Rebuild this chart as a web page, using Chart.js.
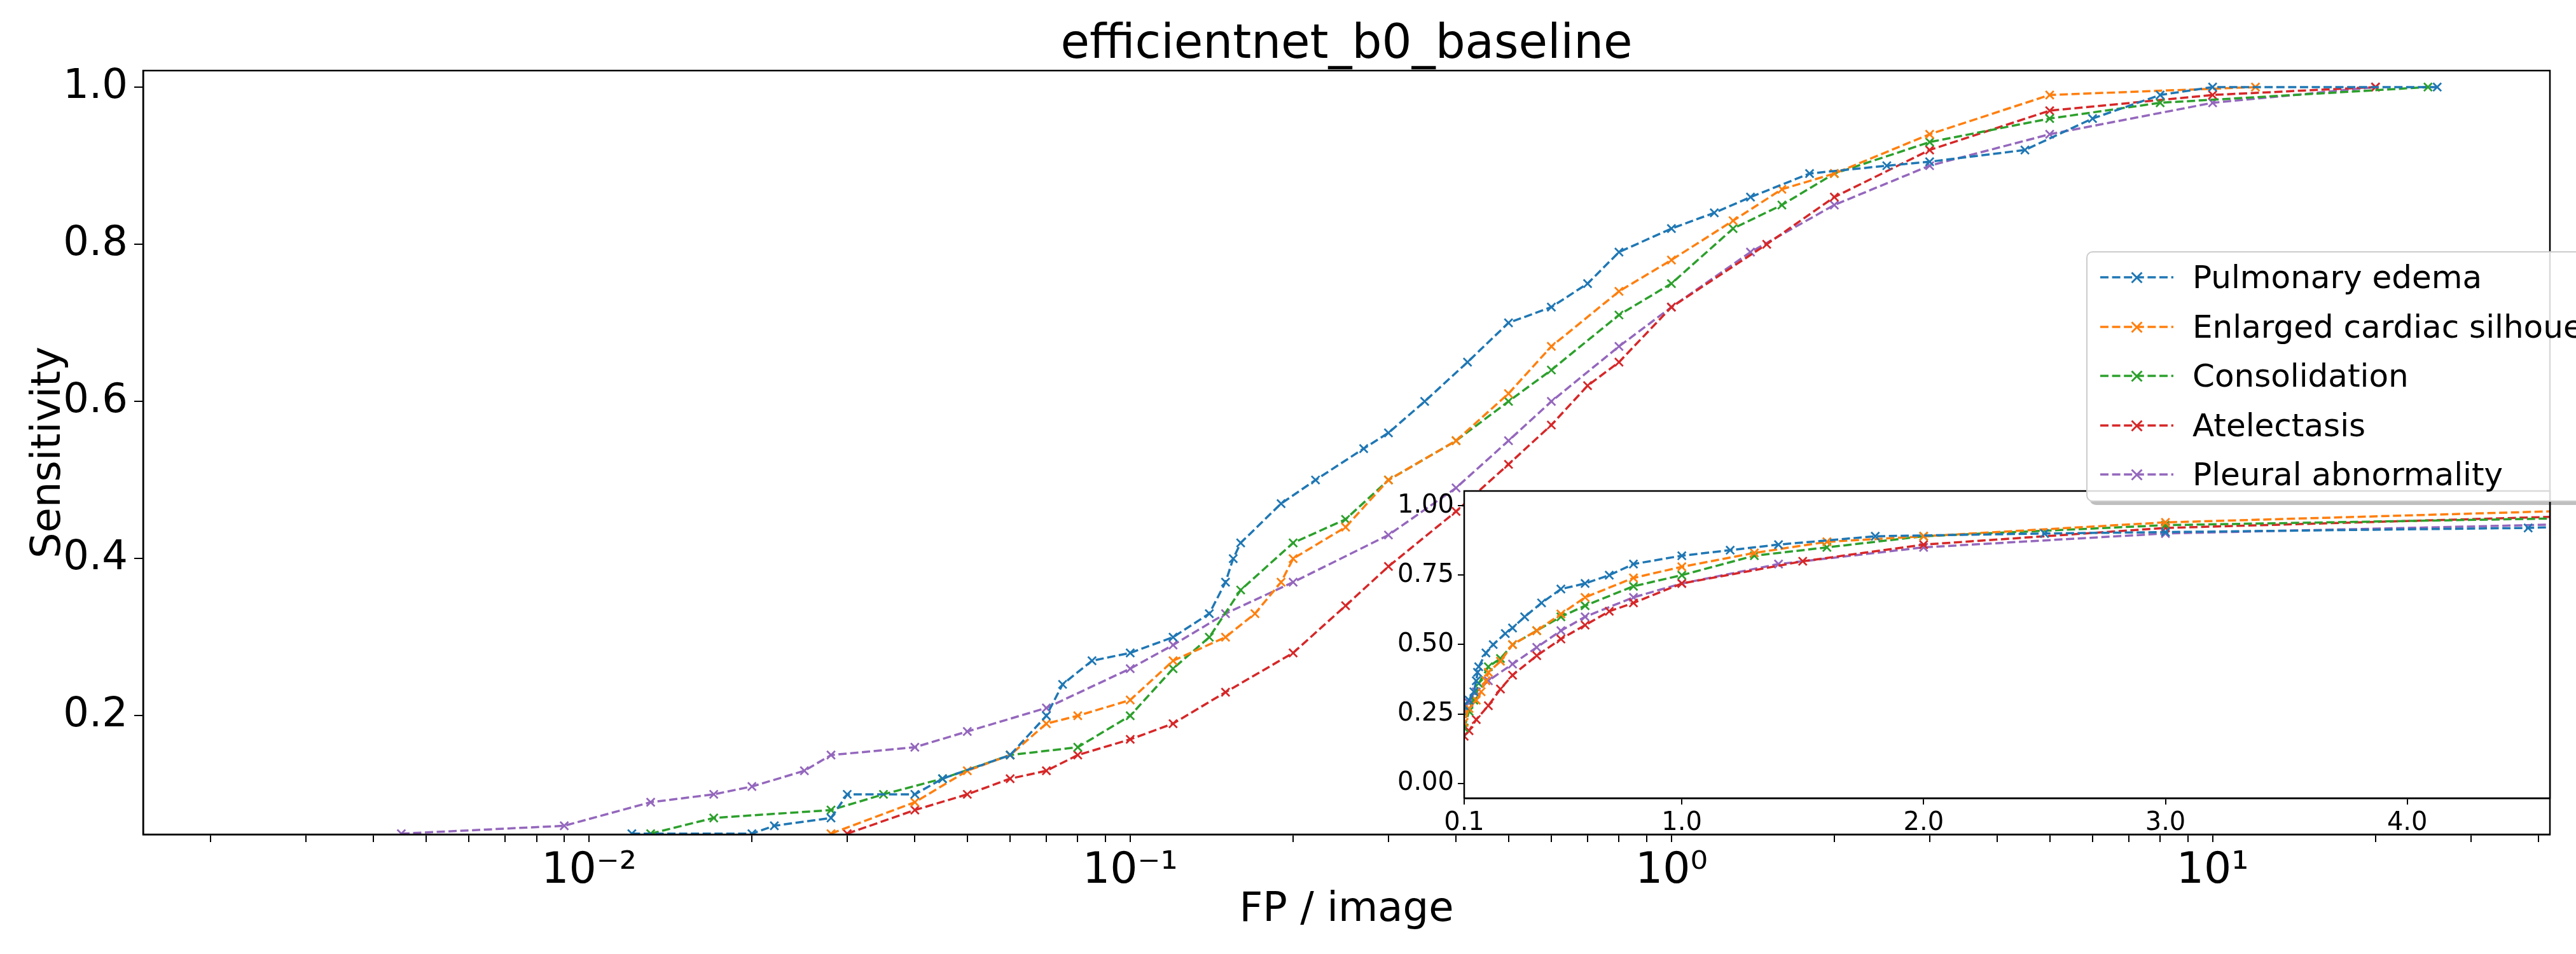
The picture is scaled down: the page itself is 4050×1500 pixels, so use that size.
<!DOCTYPE html>
<html>
<head>
<meta charset="utf-8">
<script src="https://cdn.jsdelivr.net/npm/chart.js@4.4.0/dist/chart.umd.min.js"></script>
<style>
  html, body { margin: 0; padding: 0; background: #fff; overflow: hidden; width: 4050px; height: 1500px; }
  body { position: relative; font-family: "DejaVu Sans", sans-serif; }
  #main { position: absolute; left: 0; top: 0; }
  #inset { position: absolute; left: 2150px; top: 740px; }
  #title { position: absolute; left: 225px; width: 3784px; top: 22px; text-align: center; font-size: 74px; color: #000; }
  #legend { position: absolute; left: 3280px; top: 395px; width: 900px; height: 390px; background: rgba(255,255,255,0.85);
            border: 2px solid #ccc; border-radius: 10px; box-shadow: 5px 5px 0 rgba(0,0,0,0.25); z-index: 5; }
  .item { position: absolute; left: 20px; height: 70px; display: flex; align-items: center; font-size: 50px; color: #000; }
  .item svg { margin-right: 30px; }
</style>
</head>
<body>
<canvas id="main" width="4050" height="1500"></canvas>
<canvas id="inset" width="1900" height="600"></canvas>
<div id="title">efficientnet_b0_baseline</div>
<div id="legend"></div>
<script>
// Series data (FP per image, sensitivity)
var labels = ['Pulmonary edema', 'Enlarged cardiac silhouette', 'Consolidation', 'Atelectasis', 'Pleural abnormality'];
var colors = ['#1f77b4', '#ff7f0e', '#2ca02c', '#d62728', '#9467bd'];

var edemaX = [0.012, 0.02, 0.022, 0.028, 0.03, 0.04, 0.045, 0.06, 0.07, 0.075, 0.085, 0.1, 0.12, 0.14, 0.15, 0.155, 0.16, 0.19, 0.22, 0.27, 0.3, 0.35, 0.42, 0.5, 0.6, 0.7, 0.8, 1.0, 1.2, 1.4, 1.8, 2.5, 3.0, 4.5, 6.0, 8.0, 10, 26];
var edemaY = [0.05, 0.05, 0.06, 0.07, 0.10, 0.10, 0.12, 0.15, 0.20, 0.24, 0.27, 0.28, 0.30, 0.33, 0.37, 0.40, 0.42, 0.47, 0.50, 0.54, 0.56, 0.60, 0.65, 0.70, 0.72, 0.75, 0.79, 0.82, 0.84, 0.86, 0.89, 0.90, 0.905, 0.92, 0.96, 0.99, 1.0, 1.0];

var cardiacX = [0.028, 0.04, 0.05, 0.06, 0.07, 0.08, 0.1, 0.12, 0.15, 0.17, 0.19, 0.2, 0.25, 0.3, 0.4, 0.5, 0.6, 0.8, 1.0, 1.3, 1.6, 2.0, 3.0, 5.0, 12];
var cardiacY = [0.05, 0.09, 0.13, 0.15, 0.19, 0.20, 0.22, 0.27, 0.30, 0.33, 0.37, 0.40, 0.44, 0.50, 0.55, 0.61, 0.67, 0.74, 0.78, 0.83, 0.87, 0.89, 0.94, 0.99, 1.0];

var consX = [0.013, 0.017, 0.028, 0.035, 0.045, 0.06, 0.08, 0.1, 0.12, 0.14, 0.16, 0.2, 0.25, 0.3, 0.4, 0.5, 0.6, 0.8, 1.0, 1.3, 1.6, 2.0, 3.0, 5.0, 8.0, 25];
var consY = [0.05, 0.07, 0.08, 0.10, 0.12, 0.15, 0.16, 0.20, 0.26, 0.30, 0.36, 0.42, 0.45, 0.50, 0.55, 0.60, 0.64, 0.71, 0.75, 0.82, 0.85, 0.89, 0.93, 0.96, 0.98, 1.0];

var atelX = [0.03, 0.04, 0.05, 0.06, 0.07, 0.08, 0.1, 0.12, 0.15, 0.2, 0.25, 0.3, 0.4, 0.5, 0.6, 0.7, 0.8, 1.0, 1.5, 2.0, 3.0, 5.0, 10, 20];
var atelY = [0.05, 0.08, 0.10, 0.12, 0.13, 0.15, 0.17, 0.19, 0.23, 0.28, 0.34, 0.39, 0.46, 0.52, 0.57, 0.62, 0.65, 0.72, 0.80, 0.86, 0.92, 0.97, 0.99, 1.0];

var pleuralX = [0.0045, 0.009, 0.013, 0.017, 0.02, 0.025, 0.028, 0.04, 0.05, 0.07, 0.1, 0.12, 0.15, 0.2, 0.3, 0.4, 0.5, 0.6, 0.8, 1.0, 1.4, 2.0, 3.0, 5.0, 10, 20];
var pleuralY = [0.05, 0.06, 0.09, 0.10, 0.11, 0.13, 0.15, 0.16, 0.18, 0.21, 0.26, 0.29, 0.33, 0.37, 0.43, 0.49, 0.55, 0.60, 0.67, 0.72, 0.79, 0.85, 0.90, 0.94, 0.98, 1.0];

var seriesX = [edemaX, cardiacX, consX, atelX, pleuralX];
var seriesY = [edemaY, cardiacY, consY, atelY, pleuralY];

var mainYTicks = [0.2, 0.4, 0.6, 0.8, 1.0];
var insetXTicks = [0.1, 1.0, 2.0, 3.0, 4.0];
var insetYTicks = [0, 0.25, 0.5, 0.75, 1.0];

Chart.defaults.font.family = '"DejaVu Sans", sans-serif';
Chart.defaults.color = '#000';
Chart.defaults.animation = false;

function makeDatasets(lw, r) {
  return seriesX.map(function (xs, i) {
    return {
      label: labels[i],
      data: xs.map(function (x, j) { return { x: x, y: seriesY[i][j] }; }),
      borderColor: colors[i], backgroundColor: colors[i],
      borderWidth: lw, borderDash: [lw * 3.7, lw * 1.6],
      pointStyle: 'crossRot', pointRadius: r, pointBorderWidth: lw * 0.8,
      showLine: true, tension: 0
    };
  });
}

// frame round the plot area, and white fill for the inset
var framePlugin = {
  id: 'frame',
  beforeDatasetsDraw: function (chart, args, opts) {
    if (!opts.fill) return;
    var a = chart.chartArea, c = chart.ctx;
    c.save(); c.fillStyle = '#fff'; c.fillRect(a.left, a.top, a.right - a.left, a.bottom - a.top); c.restore();
  },
  afterDraw: function (chart, args, opts) {
    var a = chart.chartArea, c = chart.ctx;
    c.save(); c.strokeStyle = '#000'; c.lineWidth = opts.lw || 2;
    c.strokeRect(a.left, a.top, a.right - a.left, a.bottom - a.top); c.restore();
  }
};

var sup = { '-': '\u207b', '0': '\u2070', '1': '\u00b9', '2': '\u00b2', '3': '\u00b3' };

new Chart(document.getElementById('main'), {
  type: 'scatter',
  data: { datasets: makeDatasets(3.5, 9) },
  plugins: [framePlugin],
  options: {
    responsive: false,
    layout: { padding: { left: 35, right: 41, top: 111, bottom: 30 } },
    plugins: { legend: { display: false }, tooltip: { enabled: false }, frame: { lw: 2.5 } },
    scales: {
      x: {
        type: 'logarithmic', min: 0.0015, max: 42,
        grid: { drawOnChartArea: false, color: '#000', tickLength: 12, lineWidth: 2 },
        border: { color: '#000', width: 2.5 },
        afterBuildTicks: function (s) {
          var t = [];
          for (var e = -3; e <= 1; e++) for (var m = 1; m <= 9; m++) {
            var v = m * Math.pow(10, e);
            if (v >= s.min && v <= s.max) t.push({ value: v, major: m === 1 });
          }
          s.ticks = t;
        },
        ticks: {
          font: { size: 68 }, maxRotation: 0, autoSkip: false, padding: 6,
          callback: function (v) {
            var e = Math.round(Math.log10(v));
            if (Math.abs(v - Math.pow(10, e)) > 1e-9 * v) return '';
            return '10' + String(e).split('').map(function (ch) { return sup[ch]; }).join('');
          }
        },
        title: { display: true, text: 'FP / image', font: { size: 64 }, padding: { top: 0, bottom: 0 } },
        afterFit: function (s) { s.height = 1500 - 30 - 1312; }
      },
      y: {
        min: 0.049, max: 1.021,
        grid: { drawOnChartArea: false, color: '#000', tickLength: 14, lineWidth: 2 },
        border: { color: '#000', width: 2.5 },
        afterBuildTicks: function (s) { s.ticks = mainYTicks.map(function (v) { return { value: v }; }); },
        ticks: { font: { size: 64 }, padding: 10, callback: function (v) { return v.toFixed(1); } },
        title: { display: true, text: 'Sensitivity', font: { size: 64 }, padding: { bottom: 8 } },
        afterFit: function (s) { s.width = 225 - 35; }
      }
    }
  }
});

// inset: same curves on a linear FP axis
new Chart(document.getElementById('inset'), {
  type: 'scatter',
  data: { datasets: makeDatasets(3.5, 9) },
  plugins: [framePlugin],
  options: {
    responsive: false,
    layout: { padding: { left: 0, right: 1900 - (4009 - 2150), top: 772 - 740, bottom: 0 } },
    plugins: { legend: { display: false }, tooltip: { enabled: false }, frame: { fill: true, lw: 2.5 } },
    scales: {
      x: {
        type: 'linear', min: 0.1, max: 4.59,
        grid: { drawOnChartArea: false, color: '#000', tickLength: 10, lineWidth: 2 },
        border: { color: '#000', width: 2.5 },
        afterBuildTicks: function (s) { s.ticks = insetXTicks.map(function (v) { return { value: v }; }); },
        ticks: { font: { size: 40 }, maxRotation: 0, padding: 6, callback: function (v) { return v.toFixed(1); } },
        afterFit: function (s) { s.height = 600 - (1255 - 740); }
      },
      y: {
        min: -0.053, max: 1.053,
        grid: { drawOnChartArea: false, color: '#000', tickLength: 10, lineWidth: 2 },
        border: { color: '#000', width: 2.5 },
        afterBuildTicks: function (s) { s.ticks = insetYTicks.map(function (v) { return { value: v }; }); },
        ticks: { font: { size: 40 }, padding: 6, callback: function (v) { return v.toFixed(2); } },
        afterFit: function (s) { s.width = 2302 - 2150; }
      }
    }
  }
});

// legend as html
var leg = document.getElementById('legend');
labels.forEach(function (name, i) {
  var d = document.createElement('div');
  d.className = 'item';
  d.style.top = (4 + i * 77.5) + 'px';
  var c = colors[i];
  d.innerHTML = '<svg width="115" height="30"><line x1="0" y1="15" x2="115" y2="15" stroke="' + c +
    '" stroke-width="3.5" stroke-dasharray="13,5.6"/><path d="M49.5,7.5 L65.5,23.5 M65.5,7.5 L49.5,23.5" stroke="' + c +
    '" stroke-width="3"/></svg><span>' + name + '</span>';
  leg.appendChild(d);
});
</script>
</body>
</html>
